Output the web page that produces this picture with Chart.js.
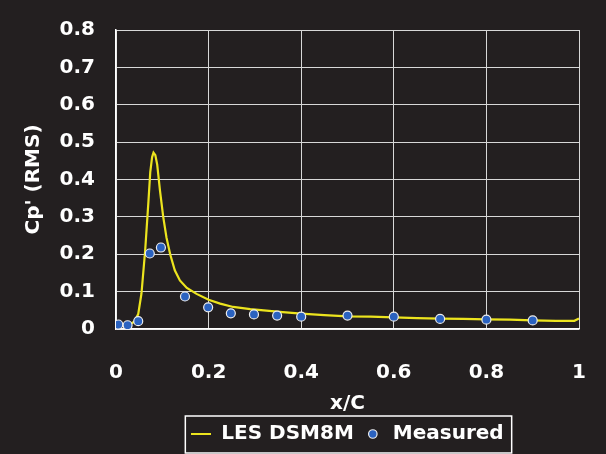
<!DOCTYPE html>
<html>
<head>
<meta charset="utf-8">
<script src="https://cdn.jsdelivr.net/npm/chart.js@4.4.1/dist/chart.umd.min.js"></script>
<style>
  html, body { margin: 0; padding: 0; background: #231f20; }
  #wrap { width: 606px; height: 454px; }
</style>
</head>
<body>
<div id="wrap"><canvas id="diagram" width="606" height="454"></canvas></div>
<script>
// LES curve
const lesX = [0, 0.01, 0.02, 0.03, 0.04, 0.048, 0.055, 0.063, 0.07, 0.074, 0.078, 0.081, 0.085, 0.089, 0.095, 0.102, 0.109, 0.117, 0.127, 0.138, 0.153, 0.174, 0.2, 0.225, 0.253, 0.29, 0.325, 0.36, 0.4, 0.45, 0.5, 0.55, 0.6, 0.65, 0.7, 0.75, 0.8, 0.85, 0.9, 0.95, 0.99, 1.0];
const lesY = [0.015, 0.012, 0.01, 0.012, 0.02, 0.04, 0.095, 0.21, 0.34, 0.42, 0.46, 0.472, 0.465, 0.44, 0.37, 0.30, 0.245, 0.20, 0.157, 0.13, 0.11, 0.094, 0.078, 0.068, 0.059, 0.053, 0.049, 0.045, 0.041, 0.037, 0.034, 0.033, 0.031, 0.029, 0.028, 0.027, 0.026, 0.025, 0.023, 0.022, 0.022, 0.028];

// Measured points
const measX = [0.005, 0.025, 0.048, 0.073, 0.097, 0.149, 0.199, 0.248, 0.298, 0.348, 0.4, 0.5, 0.6, 0.7, 0.8, 0.9];
const measY = [0.012, 0.010, 0.021, 0.202, 0.218, 0.087, 0.058, 0.042, 0.039, 0.036, 0.033, 0.036, 0.033, 0.027, 0.025, 0.023];

const seriesNames = ['LES DSM8M', 'Measured'];
const xTicks = [0, 0.2, 0.4, 0.6, 0.8, 1];
const yTicks = [0, 0.1, 0.2, 0.3, 0.4, 0.5, 0.6, 0.7, 0.8];

const yellow = '#ece41e';
const font = { family: '"DejaVu Sans", sans-serif', weight: 'bold', size: 20 };

// little line picture for the legend entry of the curve
const lineSample = document.createElement('canvas');
lineSample.width = 20;
lineSample.height = 2;
const lsCtx = lineSample.getContext('2d');
lsCtx.fillStyle = yellow;
lsCtx.fillRect(0, 0, 20, 2);

// box round the legend items
const legendFrame = {
    id: 'legendFrame',
    afterDraw(chart) {
        const lg = chart.legend;
        const boxes = lg.legendHitBoxes;
        if (!boxes || !boxes.length) return;
        const left = Math.min(...boxes.map(b => b.left)) - 6;
        const right = Math.max(...boxes.map(b => b.left + b.width)) + 8;
        const c = chart.ctx;
        c.save();
        c.strokeStyle = '#ffffff';
        c.lineWidth = 1.5;
        c.strokeRect(left, lg.top + 1, right - left, lg.height - 2);
        c.restore();
    }
};

new Chart(document.getElementById('diagram').getContext('2d'), {
    type: 'scatter',
    data: {
        datasets: [
            {
                label: seriesNames[0],
                data: lesX.map((x, i) => ({ x: x, y: lesY[i] })),
                showLine: true,
                borderColor: yellow,
                backgroundColor: yellow,
                borderWidth: 2.2,
                pointRadius: 0,
                pointStyle: lineSample,
                order: 2
            },
            {
                label: seriesNames[1],
                data: measX.map((x, i) => ({ x: x, y: measY[i] })),
                showLine: false,
                backgroundColor: '#2a62c0',
                borderColor: '#eeeeee',
                borderWidth: 1.2,
                pointRadius: 4.5,
                pointStyle: 'circle',
                order: 1
            }
        ]
    },
    options: {
        responsive: false,
        animation: false,
        layout: { padding: { left: 22, right: 27, top: 30, bottom: 0 } },
        plugins: {
            tooltip: { enabled: false },
            legend: {
                position: 'bottom',
                align: 'center',
                fullSize: false,
                labels: {
                    color: '#ffffff',
                    font: font,
                    usePointStyle: true,
                    boxWidth: 20,
                    boxHeight: 6,
                    padding: 9,
                    sort: (a, b) => a.datasetIndex - b.datasetIndex
                }
            }
        },
        scales: {
            x: {
                type: 'linear',
                min: 0,
                max: 1,
                afterBuildTicks: axis => { axis.ticks = xTicks.map(v => ({ value: v })); },
                afterFit: axis => {
                    axis.height = 86;
                    axis.paddingLeft = 7;
                    axis.paddingRight = 7;
                },
                ticks: {
                    color: '#ffffff',
                    font: font,
                    padding: 32,
                    callback: v => String(v)
                },
                grid: { color: '#d8d8d8', lineWidth: 1, drawTicks: false },
                border: { color: '#ffffff', width: 1.5 },
                title: { display: true, text: 'x/C', color: '#ffffff', font: font, padding: { top: 0, bottom: -1 } }
            },
            y: {
                min: 0,
                max: 0.8,
                afterBuildTicks: axis => { axis.ticks = yTicks.map(v => ({ value: v })); },
                afterFit: axis => {
                    axis.width = 94;
                    axis.paddingTop = 12;
                    axis.paddingBottom = 12;
                },
                ticks: {
                    color: '#ffffff',
                    font: font,
                    padding: 21,
                    callback: v => String(v)
                },
                grid: { color: '#d8d8d8', lineWidth: 1, drawTicks: false },
                border: { color: '#ffffff', width: 1.5 },
                title: { display: true, text: "Cp' (RMS)", color: '#ffffff', font: font, padding: { top: 0, bottom: 0 } }
            }
        }
    },
    plugins: [legendFrame]
});
</script>
</body>
</html>
